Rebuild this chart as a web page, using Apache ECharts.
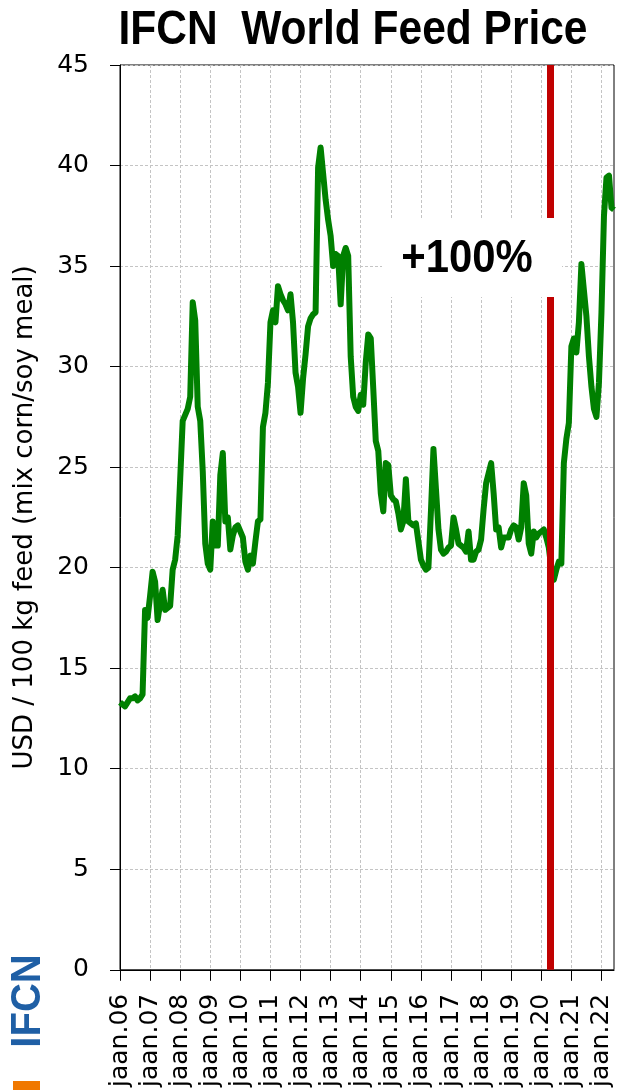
<!DOCTYPE html>
<html>
<head>
<meta charset="utf-8">
<script src="https://cdn.jsdelivr.net/npm/echarts@6/dist/echarts.min.js"></script>
<style>
  html, body { margin: 0; padding: 0; background: #fff; }
  #chart { width: 621px; height: 1090px; }
</style>
</head>
<body>
<div id="chart"></div>
<script>
// tick labels, one per January
const years = ['06', '07', '08', '09', '10', '11', '12', '13', '14', '15', '16', '17', '18', '19', '20', '21', '22']

// monthly feed price, USD / 100 kg (jan .. dec)
const p2006 = [13.3, 13.2, 13.1, 13.3, 13.5, 13.5, 13.6, 13.4, 13.5, 13.7, 17.9, 17.5]
const p2007 = [18.6, 19.8, 19.3, 17.4, 18.2, 18.9, 17.9, 18.0, 18.1, 19.9, 20.4, 21.6]
const p2008 = [24.4, 27.3, 27.6, 27.9, 28.5, 33.2, 32.3, 28.0, 27.3, 24.8, 21.2, 20.2]
const p2009 = [19.9, 22.3, 21.1, 21.1, 24.6, 25.7, 22.3, 22.5, 20.9, 21.6, 22.0, 22.1]
const p2010 = [21.8, 21.5, 20.3, 19.9, 20.6, 20.2, 21.3, 22.3, 22.4, 27.0, 27.7, 29.2]
const p2011 = [32.2, 32.8, 32.2, 34.0, 33.6, 33.3, 33.1, 32.8, 33.6, 32.2, 29.7, 29.0]
const p2012 = [27.7, 29.4, 30.6, 32.0, 32.4, 32.6, 32.7, 39.9, 40.9, 39.6, 38.3, 37.3]
const p2013 = [36.5, 35.0, 35.6, 35.5, 33.1, 35.5, 35.9, 35.5, 30.5, 28.5, 28.0, 27.8]
const p2014 = [28.6, 28.1, 30.2, 31.6, 31.4, 28.9, 26.3, 25.8, 23.7, 22.8, 25.2, 25.1]
const p2015 = [23.6, 23.4, 23.3, 22.7, 21.9, 22.3, 24.4, 22.3, 22.2, 22.1, 22.2, 21.3]
const p2016 = [20.4, 20.1, 19.9, 20.0, 22.8, 25.9, 23.9, 21.9, 20.9, 20.7, 20.8, 21.0]
const p2017 = [21.1, 22.5, 21.9, 21.2, 21.1, 21.0, 20.8, 21.8, 20.4, 20.4, 20.8, 20.9]
const p2018 = [21.4, 22.9, 24.2, 24.7, 25.2, 23.7, 21.9, 22.0, 21.0, 21.5, 21.5, 21.5]
const p2019 = [21.9, 22.1, 22.0, 21.4, 22.0, 24.2, 23.6, 21.2, 20.7, 21.8, 21.5, 21.7]
const p2020 = [21.8, 21.9, 21.5, 21.0, 20.0, 19.4, 19.9, 20.3, 20.2, 25.2, 26.4, 27.2]
const p2021 = [31.0, 31.4, 30.7, 32.2, 35.1, 33.8, 32.5, 30.5, 29.0, 27.9, 27.5, 29.2]
const p2022 = [32.7, 37.5, 39.4, 39.5, 37.9, 37.8]

// month index (0 = jan 2006) where the red marker sits
const markMonth = 171.7

const price = [].concat(p2006, p2007, p2008, p2009, p2010, p2011, p2012, p2013,
  p2014, p2015, p2016, p2017, p2018, p2019, p2020, p2021, p2022)
const data = price.map(function (v, i) { return [i, v] })
const janTicks = years.map(function (y, i) { return i * 12 })

const chart = echarts.init(document.getElementById('chart'), null, { renderer: 'canvas' })

const option = {
  animation: false,
  backgroundColor: '#fff',
  grid: {
    left: 120, right: 7, top: 65, bottom: 118,
    show: true, borderColor: '#000', borderWidth: 1
  },
  xAxis: {
    type: 'value',
    min: 0,
    max: price.length - 1,
    interval: 12,
    axisLine: { lineStyle: { color: '#000', width: 1 } },
    axisTick: { show: true, length: 11, lineStyle: { color: '#000' }, customValues: janTicks },
    axisLabel: {
      customValues: janTicks,
      rotate: 90,
      margin: 24,
      color: '#000',
      fontFamily: 'DejaVu Sans',
      fontSize: 25,
      formatter: function (v) { return 'jaan.' + years[Math.round(v / 12)] }
    },
    splitLine: { show: true, lineStyle: { color: '#c4c4c4', type: [3, 2], width: 1 } }
  },
  yAxis: {
    type: 'value',
    min: 0,
    max: 45,
    interval: 5,
    name: 'USD / 100 kg feed (mix corn/soy meal)',
    nameLocation: 'middle',
    nameGap: 82,
    nameTextStyle: { color: '#000', fontFamily: 'DejaVu Sans', fontSize: 26 },
    axisLine: { show: true, lineStyle: { color: '#000', width: 1 } },
    axisTick: { show: true, length: 10, lineStyle: { color: '#000' } },
    axisLabel: { margin: 31, color: '#000', fontFamily: 'DejaVu Sans', fontSize: 25 },
    splitLine: { show: true, lineStyle: { color: '#c4c4c4', type: [3, 2], width: 1 } }
  },
  series: [
    {
      type: 'line',
      data: data,
      showSymbol: false,
      lineStyle: { color: '#008000', width: 6, join: 'round' },
      itemStyle: { color: '#008000' },
      markLine: {
        silent: true,
        symbol: 'none',
        label: { show: false },
        lineStyle: { color: '#c00000', width: 7, type: 'solid' },
        data: [{ xAxis: markMonth }]
      }
    }
  ],
  graphic: [
    {
      type: 'text', x: 353, y: 31, scaleX: 0.885, z: 100,
      style: {
        text: 'IFCN  World Feed Price', x: 0, y: 0,
        fill: '#000', font: 'bold 48px "Liberation Sans"',
        textAlign: 'center', textVerticalAlign: 'middle'
      }
    },
    {
      type: 'rect', z: 100,
      shape: { x: 382, y: 218, width: 180, height: 79 },
      style: { fill: '#fff' }
    },
    {
      type: 'text', x: 467, y: 259, scaleX: 0.91, z: 101,
      style: {
        text: '+100%', x: 0, y: 0,
        fill: '#000', font: 'bold 46px "Liberation Sans"',
        textAlign: 'center', textVerticalAlign: 'middle'
      }
    },
    {
      type: 'text', x: 28, y: 1001, rotation: Math.PI / 2, scaleX: 0.93, z: 100,
      style: {
        text: 'IFCN', x: 0, y: 0,
        fill: '#1f5fa5', font: 'bold 43px "Liberation Sans"',
        textAlign: 'center', textVerticalAlign: 'middle'
      }
    },
    {
      type: 'rect', z: 100,
      shape: { x: 13, y: 1081, width: 27, height: 9 },
      style: { fill: '#f07800' }
    }
  ]
}

chart.setOption(option)
</script>
</body>
</html>
